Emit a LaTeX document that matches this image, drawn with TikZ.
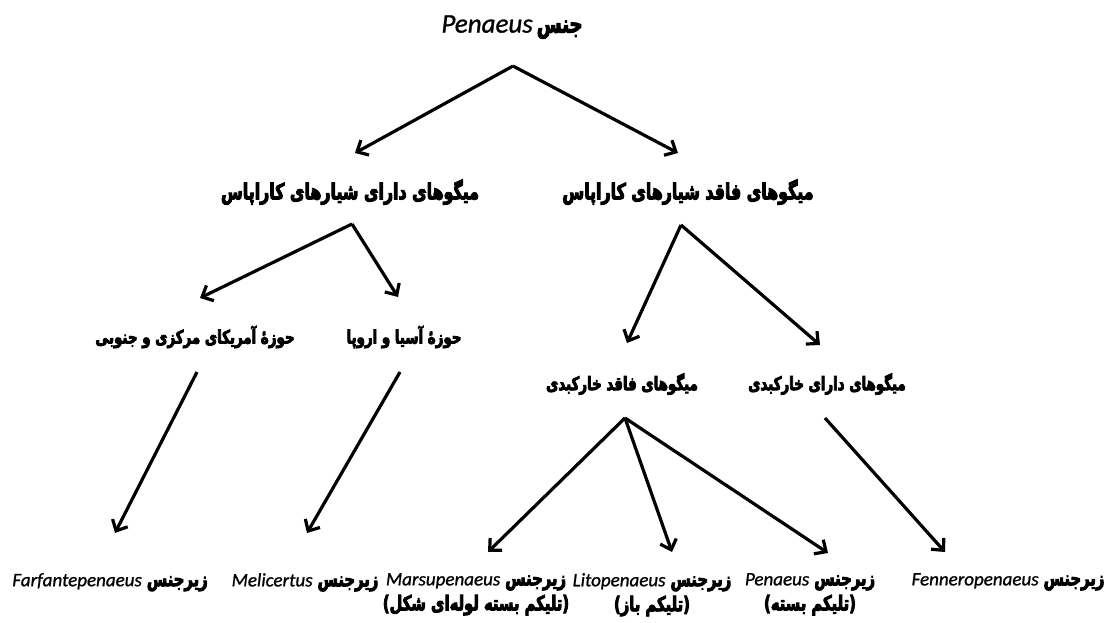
\documentclass[tikz,border=0pt]{standalone}
\usepackage{fontspec}
\usetikzlibrary{arrows.meta}
\TeXXeTstate=1
\newfontfamily\fa[Script=Arabic, FakeStretch=0.72, BoldFeatures={FakeBold=4}]{DejaVu Sans}
\newfontfamily\faparen[FakeStretch=0.72, BoldFeatures={FakeBold=4}]{DejaVu Sans}
\newfontfamily\lat[ItalicFeatures={FakeBold=1}]{Carlito}
\newcommand{\fat}[1]{{\fa\bfseries\beginR #1\endR}}
\newcommand{\la}[1]{{\lat\itshape #1}}
\newcommand{\pl}{{\faparen\bfseries(}}
\newcommand{\pr}{{\faparen\bfseries)}}
\tikzset{
  lbl/.style={inner sep=0pt, align=center},
  arr/.style={line width=3.2pt, -{Straight Barb[length=9pt,width=17pt,line width=3.2pt]}},
  lvtwo/.style={lbl, font=\fontsize{22}{24}\selectfont},
  lvthree/.style={lbl, font=\fontsize{18.6}{20}\selectfont},
  bottom/.style={lbl, font=\fontsize{20.5}{25}\selectfont, anchor=north},
  latb/.style={},
}
\newcommand{\lb}[1]{{\fontsize{19}{25}\selectfont\la{#1}}\hspace{5pt}}
\begin{document}
\begin{tikzpicture}[x=1pt,y=-1pt]
\useasboundingbox (0,0) rectangle (1117,622);
% labels
\node[lbl] (top) at (512,27) {{\fontsize{27}{28}\selectfont\la{Penaeus}}\hspace{4pt}{\fontsize{25}{28}\selectfont\fat{جنس}}};
\node[lvtwo] (l2a) at (350,192) {\fat{میگوهای دارای شیارهای کاراپاس}};
\node[lvtwo] (l2b) at (688,192) {\fat{میگوهای فاقد شیارهای کاراپاس}};
\node[lvthree] (l3a) at (195,337) {\fat{حوزهٔ آمریکای مرکزی و جنوبی}};
\node[lvthree] (l3b) at (404,337) {\fat{حوزهٔ آسیا و اروپا}};
\node[lvthree] (l4a) at (622,384) {\fat{میگوهای فاقد خارکبدی}};
\node[lvthree] (l4b) at (827,384) {\fat{میگوهای دارای خارکبدی}};
\node[bottom] (b1) at (110,573) {\lb{Farfantepenaeus}\fat{زیرجنس}};
\node[bottom] (b2) at (305,573) {\lb{Melicertus}\fat{زیرجنس}};
\node[bottom] (b3) at (476,573) {\lb{Marsupenaeus}\fat{زیرجنس}\\\pl\fat{تلیکم بسته لوله‌ای شکل}\pr};
\node[bottom] (b4) at (652,573) {\lb{Litopenaeus}\fat{زیرجنس}\\\pl\fat{تلیکم باز}\pr};
\node[bottom] (b5) at (810,573) {\lb{Penaeus}\fat{زیرجنس}\\\pl\fat{تلیکم بسته}\pr};
\node[bottom] (b6) at (1008,573) {\lb{Fenneropenaeus}\fat{زیرجنس}};
% connector points
\coordinate (s1) at (513,66);
\coordinate (t1a) at (355,153);
\coordinate (t1b) at (678,153);
\coordinate (s2a) at (352,224);
\coordinate (t2a) at (200,298);
\coordinate (t2b) at (398,297);
\coordinate (s2b) at (681,225);
\coordinate (t2c) at (627,343);
\coordinate (t2d) at (820,345);
\coordinate (s3a) at (197,372);
\coordinate (t3a) at (115,533);
\coordinate (s3b) at (400,372);
\coordinate (t3b) at (307,533);
\coordinate (s4a) at (625,418);
\coordinate (t4a) at (488,552);
\coordinate (t4b) at (672,552);
\coordinate (t4c) at (828,553);
\coordinate (s4b) at (825,418);
\coordinate (t4d) at (945,552);
% connectors
\draw[arr] (s1) -- (t1a);
\draw[arr] (s1) -- (t1b);
\draw[arr] (s2a) -- (t2a);
\draw[arr] (s2a) -- (t2b);
\draw[arr] (s2b) -- (t2c);
\draw[arr] (s2b) -- (t2d);
\draw[arr] (s3a) -- (t3a);
\draw[arr] (s3b) -- (t3b);
\draw[arr] (s4a) -- (t4a);
\draw[arr] (s4a) -- (t4b);
\draw[arr] (s4a) -- (t4c);
\draw[arr] (s4b) -- (t4d);
\end{tikzpicture}
\end{document}
